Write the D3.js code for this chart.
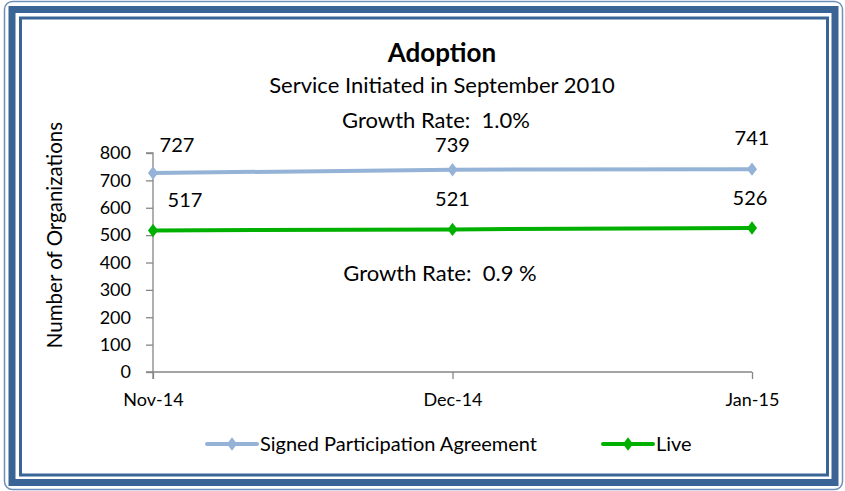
<!DOCTYPE html>
<html>
<head>
<meta charset="utf-8">
<script src="https://cdn.jsdelivr.net/npm/d3@7"></script>
<style>
  body { margin: 0; background: #fff; }
  svg { display: block; font-family: Lato, "Open Sans", sans-serif; }
  text { white-space: pre; }
</style>
</head>
<body>
<div id="chart"></div>
<script>
// chart data
var months = ["Nov-14", "Dec-14", "Jan-15"];
var signedValues = [727, 739, 741];
var liveValues = [517, 521, 526];
var yTicks = [0, 100, 200, 300, 400, 500, 600, 700, 800];
var seriesNames = ["Signed Participation Agreement", "Live"];
var growthNotes = ["Growth Rate:  1.0%", "Growth Rate:  0.9 %"];

var W = 845, H = 491;
var margin = { top: 153, right: 93, bottom: 119, left: 153 },
    width = W - margin.left - margin.right,
    height = H - margin.top - margin.bottom;

var blue = "#95b3d7", green = "#00b000", frame = "#3a6496", axisGray = "#868686";

var svg = d3.select("#chart")
    .append("svg")
    .attr("width", W)
    .attr("height", H);

// frame: thin outer line, thick band, thin inner line
svg.append("rect")
    .attr("x", 4.5).attr("y", 1.5).attr("width", 838).attr("height", 488)
    .attr("rx", 8)
    .attr("fill", "none").attr("stroke", "#6f8fbb").attr("stroke-width", 1.5);
svg.append("rect")
    .attr("x", 12).attr("y", 9.5).attr("width", 823).attr("height", 473)
    .attr("fill", "none").attr("stroke", frame).attr("stroke-width", 7);
svg.append("rect")
    .attr("x", 20.5).attr("y", 18).attr("width", 807).attr("height", 457)
    .attr("fill", "none").attr("stroke", frame).attr("stroke-width", 3);

var g = svg.append("g")
    .attr("transform", "translate(" + margin.left + "," + margin.top + ")");

var x = d3.scalePoint()
    .domain(months)
    .range([0, width]);

var y = d3.scaleLinear()
    .domain([0, 800])
    .range([height, 0]);

// y axis
var yAxis = g.append("g")
    .call(d3.axisLeft(y).tickValues(yTicks).tickSize(7).tickPadding(15))
    .attr("font-family", null).attr("font-size", null);
yAxis.select(".domain").attr("stroke", axisGray).attr("stroke-width", 1.3)
    .attr("d", "M0," + (height + 7) + "V0H-7");
yAxis.selectAll(".tick line").attr("stroke", axisGray).attr("stroke-width", 1.3);
yAxis.selectAll(".tick text").attr("fill", "#000").style("font-size", "18px");

// x axis
var xAxis = g.append("g")
    .attr("transform", "translate(0," + height + ")")
    .call(d3.axisBottom(x).tickSize(7).tickPadding(14).tickSizeOuter(0))
    .attr("font-family", null).attr("font-size", null);
xAxis.select(".domain").attr("stroke", axisGray).attr("stroke-width", 1.3)
    .attr("d", "M-7,0H" + width);
xAxis.selectAll(".tick line").attr("stroke", axisGray).attr("stroke-width", 1.3);
xAxis.selectAll(".tick text").attr("fill", "#000").style("font-size", "18px");

// lines
var line = d3.line()
    .x(function (d, i) { return x(months[i]); })
    .y(function (d) { return y(d); });

var series = [
    { name: seriesNames[0], values: signedValues, color: blue },
    { name: seriesNames[1], values: liveValues, color: green }
];

var diamond = d3.symbol().type(d3.symbolDiamond).size(52);

series.forEach(function (s) {
    g.append("path")
        .datum(s.values)
        .attr("fill", "none")
        .attr("stroke", s.color)
        .attr("stroke-width", 4)
        .attr("stroke-linejoin", "round")
        .attr("d", line);

    g.selectAll(null)
        .data(s.values)
        .enter()
        .append("path")
        .attr("d", diamond)
        .attr("fill", s.color)
        .attr("transform", function (d, i) {
            return "translate(" + x(months[i]) + "," + y(d) + ") scale(1.3,1)";
        });
});

// data labels
var signedOffsets = [[24, -21], [0, -18], [0, -24]];
var liveOffsets = [[32, -23], [0, -23], [-2, -23]];

g.selectAll(null)
    .data(signedValues)
    .enter()
    .append("text")
    .attr("x", function (d, i) { return x(months[i]) + signedOffsets[i][0]; })
    .attr("y", function (d, i) { return y(d) + signedOffsets[i][1]; })
    .attr("text-anchor", "middle")
    .style("font-size", "20px")
    .text(function (d) { return d; });

g.selectAll(null)
    .data(liveValues)
    .enter()
    .append("text")
    .attr("x", function (d, i) { return x(months[i]) + liveOffsets[i][0]; })
    .attr("y", function (d, i) { return y(d) + liveOffsets[i][1]; })
    .attr("text-anchor", "middle")
    .style("font-size", "20px")
    .text(function (d) { return d; });

// titles
svg.append("text")
    .attr("x", 442).attr("y", 62)
    .attr("text-anchor", "middle")
    .style("font-size", "26px").style("font-weight", "bold")
    .text("Adoption");
svg.append("text")
    .attr("x", 442).attr("y", 93)
    .attr("text-anchor", "middle")
    .style("font-size", "22px")
    .text("Service Initiated in September 2010");

// growth notes
svg.append("text")
    .attr("x", 436).attr("y", 128)
    .attr("text-anchor", "middle")
    .style("font-size", "22px")
    .text(growthNotes[0]);
svg.append("text")
    .attr("x", 440).attr("y", 281)
    .attr("text-anchor", "middle")
    .style("font-size", "22px")
    .text(growthNotes[1]);

// y axis title
svg.append("text")
    .attr("transform", "translate(62,235) rotate(-90)")
    .attr("text-anchor", "middle")
    .style("font-size", "20.5px")
    .text("Number of Organizations");

// legend
var legendX = [207, 603];
series.forEach(function (s, i) {
    var lg = svg.append("g").attr("transform", "translate(" + legendX[i] + ",444)");
    lg.append("line")
        .attr("x1", 0).attr("x2", 50)
        .attr("stroke", s.color).attr("stroke-width", 4)
        .attr("stroke-linecap", "round");
    lg.append("path")
        .attr("d", diamond)
        .attr("fill", s.color)
        .attr("transform", "translate(25,0) scale(1.3,1)");
    lg.append("text")
        .attr("x", 53).attr("y", 7)
        .style("font-size", "20px")
        .text(s.name);
});
</script>
</body>
</html>
